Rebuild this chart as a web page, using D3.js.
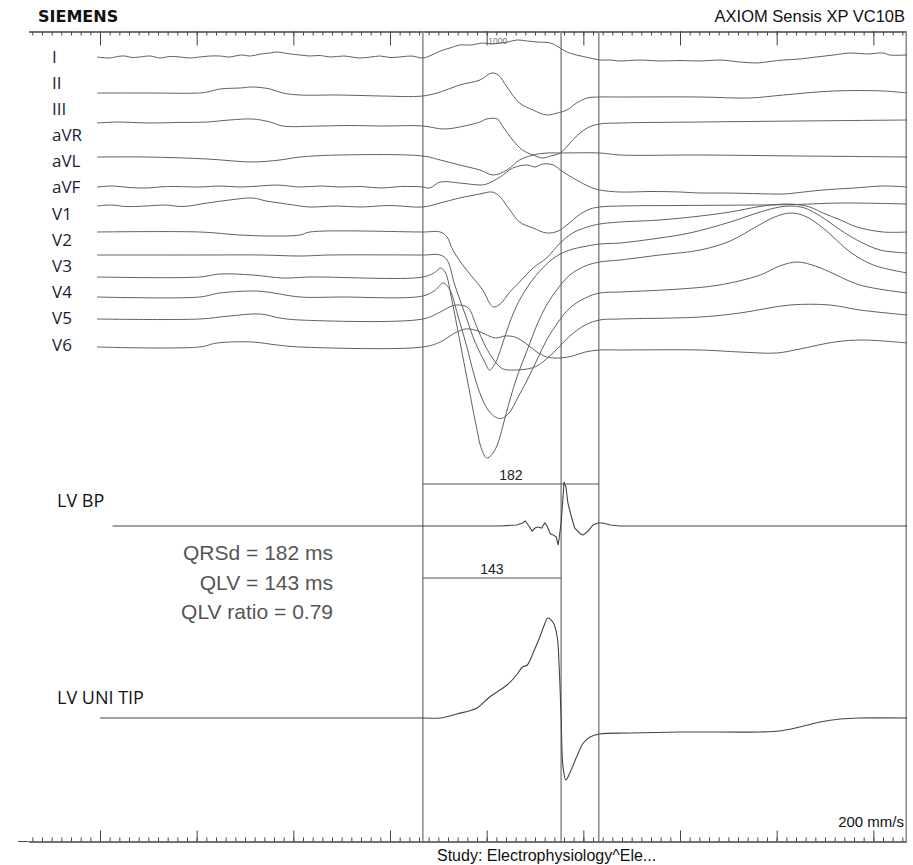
<!DOCTYPE html>
<html>
<head>
<meta charset="utf-8">
<script src="https://cdn.jsdelivr.net/npm/d3@7"></script>
<style>
  body { margin: 0; background: #fff; }
  svg { display: block; }
</style>
</head>
<body>
<div id="chart"></div>
<script>
// ---- data: [time ms, amplitude mV] ----
const leads = ["I", "II", "III", "aVR", "aVL", "aVF", "V1", "V2", "V3", "V4", "V5", "V6"];

const leadI = [[-3,0],[10,-0.02],[18,0.01],[26,0.02],[33,-0.01],[41,0],[52,0.02],[62,-0.02],[72,0.01],[83,0],[93,-0.02],[103,0],[114,0.02],[124,0.02],[135,0],[145,0.04],[156,0.02],[166,0.06],[176,0.08],[183,0.1],[197,0.06],[207,0.04],[217,0.02],[228,0.03],[238,0],[252,0.02],[269,-0.02],[280,0],[290,0.02],[300,-0.01],[310,0],[322,0.02],[334,-0.02],[341,0.02],[352,0.12],[362,0.18],[372,0.24],[384,0.24],[396,0.28],[405,0.26],[414,0.28],[422,0.3],[431,0.34],[442,0.32],[452,0.3],[466,0.28],[476,0.18],[483,0.1],[493,0.04],[507,-0.02],[517,-0.06],[528,-0.06],[538,-0.08],[559,-0.06],[579,-0.08],[600,-0.07],[621,-0.08],[641,-0.06],[662,-0.1],[680,-0.12],[693,-0.09],[707,-0.06],[724,-0.04],[741,0],[759,0.04],[776,0.08],[793,0.06],[810,0.08],[817,0.04],[835,0.04]];
const leadII = [[-3,0],[48,0],[103,0],[111,0.02],[124,0.08],[145,0.1],[158,0.12],[176,0.08],[189,0],[207,-0.04],[248,-0.04],[290,-0.06],[334,-0.06],[352,0.02],[372,0.16],[393,0.26],[405,0.4],[412,0.36],[421,0.12],[434,-0.2],[448,-0.34],[462,-0.44],[473,-0.4],[483,-0.34],[493,-0.2],[504,-0.1],[517,-0.08],[538,-0.08],[621,-0.08],[672,-0.1],[707,-0.04],[759,0.04],[810,0.04],[835,0]];
const leadIII = [[-3,0],[20,0.02],[48,0],[80,0.01],[111,0.02],[134,0.06],[158,0.08],[176,0.02],[189,-0.06],[228,-0.06],[260,-0.05],[290,-0.06],[334,-0.06],[355,-0.12],[372,-0.08],[393,0.02],[400,0.08],[411,0.08],[417,-0.08],[427,-0.34],[437,-0.54],[448,-0.64],[458,-0.7],[466,-0.66],[476,-0.6],[491,-0.3],[504,-0.1],[517,-0.02],[538,0],[621,0.02],[724,0.04],[835,0.06]];
const leadAVR = [[-3,0],[48,0],[111,-0.04],[158,-0.1],[186,-0.06],[207,0],[248,0.04],[334,0.02],[352,-0.06],[372,-0.16],[393,-0.26],[407,-0.36],[421,-0.26],[434,-0.06],[448,0.04],[462,0.08],[476,0.08],[517,0.08],[538,0.04],[621,0.04],[724,0.02],[835,0]];
const leadAVL = [[-3,0],[14,0.02],[30,-0.01],[48,-0.02],[70,0.01],[103,0],[125,0.02],[145,0],[165,0.02],[183,0.04],[207,0],[228,0.02],[248,0],[270,0.01],[290,-0.02],[312,0.01],[334,0],[341,-0.02],[352,0.1],[372,0.08],[393,0.04],[400,0.06],[414,0.2],[427,0.38],[442,0.44],[450,0.4],[458,0.46],[469,0.44],[479,0.3],[493,0.14],[507,0],[517,-0.06],[538,-0.1],[570,-0.09],[600,-0.1],[620,-0.12],[644,-0.12],[675,-0.13],[707,-0.14],[728,-0.1],[748,-0.06],[780,-0.02],[810,0.02],[835,0]];
const leadAVF = [[-3,0],[12,0.02],[26,-0.01],[48,0],[66,0.02],[86,-0.01],[111,0.06],[134,0.12],[158,0.16],[172,0.1],[186,0.06],[200,0.02],[217,-0.02],[245,0],[269,-0.02],[300,0.01],[334,-0.02],[352,0.06],[372,0.16],[393,0.24],[405,0.28],[412,0.22],[424,-0.08],[434,-0.32],[448,-0.44],[462,-0.54],[474,-0.5],[483,-0.38],[497,-0.16],[507,-0.06],[517,-0.02],[538,0],[600,0.01],[680,0.02],[720,0.03],[766,0.06],[835,0.04]];
const leadV1 = [[-3,0],[103,0],[145,-0.06],[176,-0.08],[207,-0.06],[217,0],[334,0],[352,0],[359,-0.1],[365,-0.36],[376,-0.68],[386,-0.92],[396,-1.16],[403,-1.42],[407,-1.5],[414,-1.44],[424,-1.2],[434,-1.0],[448,-0.72],[462,-0.52],[476,-0.22],[489,-0.02],[504,0.1],[517,0.16],[538,0.2],[579,0.24],[621,0.32],[652,0.4],[686,0.52],[714,0.56],[734,0.5],[748,0.38],[766,0.24],[783,0.1],[810,0],[835,0]];
const leadV2 = [[-3,0],[103,0],[166,0],[207,-0.02],[238,0],[334,0],[352,0],[359,-0.1],[367,-0.6],[378,-1.2],[388,-1.74],[398,-2.14],[403,-2.3],[409,-2.16],[416,-1.8],[424,-1.34],[434,-0.9],[445,-0.56],[458,-0.26],[471,-0.04],[486,0.1],[504,0.18],[517,0.22],[538,0.24],[579,0.34],[610,0.44],[652,0.66],[683,0.86],[703,0.96],[714,0.98],[729,0.94],[745,0.78],[766,0.5],[783,0.3],[807,0.1],[835,0.04]];
const leadV3 = [[-3,0],[103,0],[124,0.06],[158,0.04],[189,-0.02],[217,0],[334,0],[347,0.1],[352,0.18],[357,0.1],[364,-0.46],[372,-1.26],[381,-2.16],[389,-2.96],[395,-3.46],[400,-3.62],[405,-3.56],[411,-3.36],[417,-2.96],[424,-2.46],[432,-1.96],[442,-1.46],[452,-0.96],[462,-0.56],[474,-0.22],[486,0.04],[502,0.22],[517,0.3],[538,0.34],[579,0.44],[621,0.54],[652,0.72],[680,1.02],[698,1.2],[714,1.28],[729,1.22],[748,0.98],[776,0.5],[800,0.24],[835,0.08]];
const leadV4 = [[-3,0],[103,0],[124,0.08],[158,0.12],[173,0.1],[207,0],[248,0],[334,0.02],[347,0.14],[355,0.28],[362,0.14],[370,-0.36],[379,-0.96],[387,-1.56],[395,-2.02],[403,-2.3],[411,-2.42],[417,-2.42],[424,-2.3],[432,-2.02],[442,-1.66],[452,-1.26],[462,-0.86],[474,-0.5],[486,-0.22],[502,-0.02],[517,0.08],[538,0.1],[600,0.16],[641,0.24],[683,0.44],[703,0.62],[721,0.7],[740,0.62],[755,0.5],[786,0.24],[835,0.08]];
const leadV5 = [[-3,0],[103,0],[134,0.06],[166,0.1],[186,0.02],[207,-0.02],[334,0],[352,0.14],[364,0.26],[372,0.28],[381,0.22],[389,-0.12],[398,-0.52],[409,-0.86],[417,-1.0],[429,-1.02],[442,-1.0],[452,-0.94],[463,-0.78],[474,-0.58],[486,-0.34],[502,-0.12],[517,-0.02],[538,0],[621,0.04],[662,0.12],[714,0.28],[755,0.28],[786,0.18],[835,0.08]];
const leadV6 = [[-3,0],[103,0],[121,0.08],[158,0.1],[183,0.04],[207,0],[334,0],[352,0.1],[367,0.28],[378,0.36],[388,0.34],[398,0.26],[409,0.18],[419,0.22],[429,0.2],[440,0.08],[452,-0.1],[462,-0.2],[476,-0.22],[489,-0.18],[502,-0.1],[517,-0.06],[538,-0.06],[621,-0.06],[662,-0.1],[700,-0.12],[724,-0.04],[760,0.1],[789,0.14],[835,0.08]];
const leadData = [leadI, leadII, leadIII, leadAVR, leadAVL, leadAVF, leadV1, leadV2, leadV3, leadV4, leadV5, leadV6];

const lvBP = [[13,0],[200,0],[334,0],[414,0],[431,0.02],[437,0.06],[440,0.1],[443,0.02],[447,-0.1],[450,-0.04],[453,-0.02],[457,-0.04],[460,0.06],[462,0.02],[466,-0.16],[469,-0.18],[472,-0.22],[474,-0.38],[475,-0.24],[477,0.06],[479,0.58],[480,0.88],[482,0.78],[484,0.46],[488,0.16],[491,-0.04],[497,-0.16],[500,-0.18],[505,-0.1],[510,0.02],[515,0.06],[520,0.06],[528,0.02],[538,0],[835,0]];
const lvUni = [[0,0],[207,0],[334,0],[352,0],[369,0.08],[390,0.2],[403,0.42],[421,0.66],[431,0.86],[437,1.02],[442,1.06],[448,1.3],[455,1.62],[460,1.88],[463,2.0],[469,1.9],[473,1.62],[475,1.02],[477,0.02],[479,-0.98],[482,-1.24],[486,-1.1],[493,-0.78],[500,-0.5],[507,-0.38],[517,-0.32],[548,-0.3],[600,-0.28],[683,-0.28],[703,-0.26],[724,-0.18],[745,-0.08],[766,-0.02],[786,0],[835,0]];

// cursors (ms) and measured intervals
const cursors = [334, 477, 516];
const intervals = [
  { label: "182", from: 334, to: 516 },
  { label: "143", from: 334, to: 477 }
];
const results = ["QRSd = 182 ms", "QLV = 143 ms", "QLV ratio = 0.79"];

window.onload = () => {
  const W = 913, H = 865;
  const pxPerMs = 0.96667;
  const gain = 50; // px per mV

  const svg = d3.select("#chart").append("svg")
    .attr("width", W)
    .attr("height", H)
    .style("font-family", "'Liberation Sans', Arial, sans-serif");

  // time scale, 0 ms at the first long tick
  const x = d3.scaleLinear()
    .domain([-74, 834])
    .range([100 - 74 * pxPerMs, 100 + 834 * pxPerMs]);

  // 1. Header texts
  svg.append("text")
    .attr("x", 38).attr("y", 22)
    .attr("font-family", "'DejaVu Sans', sans-serif")
    .attr("font-weight", "bold")
    .attr("font-size", 16)
    .attr("fill", "#111")
    .text("SIEMENS");

  svg.append("text")
    .attr("x", 905).attr("y", 22)
    .attr("text-anchor", "end")
    .attr("font-size", 16.5)
    .attr("fill", "#111")
    .text("AXIOM Sensis XP VC10B");

  svg.append("text")
    .attr("x", 437).attr("y", 861)
    .attr("font-size", 16)
    .attr("fill", "#111")
    .text("Study: Electrophysiology^Ele...");

  svg.append("text")
    .attr("x", 904).attr("y", 827)
    .attr("text-anchor", "end")
    .attr("font-size", 15)
    .attr("fill", "#111")
    .text("200 mm/s");

  // 2. Rulers (10 ms minor, 100 ms major)
  const minor = d3.range(-70, 834, 10);
  const major = d3.range(0, 834, 100);

  function ruler(y, axisFn, minorLen, majorLen) {
    const g = svg.append("g").attr("transform", `translate(0,${y})`);
    g.append("g").call(axisFn(x).tickValues(minor).tickSize(minorLen).tickSizeOuter(0).tickFormat(""));
    g.append("g").call(axisFn(x).tickValues(major).tickSize(majorLen).tickSizeOuter(0).tickFormat(""));
    g.selectAll("path, line").attr("stroke", "#444").attr("stroke-width", 1);
    return g;
  }
  ruler(31.5, d3.axisBottom, 4, 14);
  ruler(841.5, d3.axisTop, 4, 11)
    .append("line")
    .attr("x1", 18).attr("x2", x(-74))
    .attr("stroke", "#444");

  // 3. Cursors and right border
  svg.selectAll("line.cursor")
    .data(cursors.concat([834]))
    .enter()
    .append("line")
    .attr("class", "cursor")
    .attr("x1", d => x(d)).attr("x2", d => x(d))
    .attr("y1", 31).attr("y2", 841)
    .attr("stroke", "#808080")
    .attr("stroke-width", 1.4);

  svg.append("text")
    .attr("x", x(400) + 11).attr("y", 44)
    .attr("text-anchor", "middle")
    .attr("font-size", 8.5)
    .attr("fill", "#777")
    .text("1000");

  // 4. Surface ECG leads
  const baselines = [57, 93, 123, 157, 187, 206, 232, 255, 277, 297, 319, 347];
  const labelY = d3.scalePoint().domain(leads).range([58, 346]);

  leads.forEach((name, i) => {
    const y = d3.scaleLinear().domain([0, 1]).range([baselines[i], baselines[i] - gain]);
    const line = d3.line()
      .x(d => x(d[0]))
      .y(d => y(d[1]))
      .curve(d3.curveCatmullRom.alpha(0.5));

    svg.append("path")
      .datum(leadData[i])
      .attr("d", line)
      .attr("fill", "none")
      .attr("stroke", "#606060")
      .attr("stroke-width", 1);

    svg.append("text")
      .attr("x", 52)
      .attr("y", labelY(name))
      .attr("dominant-baseline", "middle")
      .attr("font-family", "'Open Sans', sans-serif")
      .attr("font-size", 17)
      .attr("fill", "#1c1c3a")
      .text(name);
  });

  // 5. Intracardiac channels
  const channels = [
    { name: "LV BP", data: lvBP, base: 526, labelY: 507, curve: d3.curveLinear },
    { name: "LV UNI TIP", data: lvUni, base: 718, labelY: 704, curve: d3.curveCatmullRom.alpha(0.5) }
  ];

  channels.forEach(c => {
    const y = d3.scaleLinear().domain([0, 1]).range([c.base, c.base - gain]);
    svg.append("path")
      .datum(c.data)
      .attr("d", d3.line().x(d => x(d[0])).y(d => y(d[1])).curve(c.curve))
      .attr("fill", "none")
      .attr("stroke", "#444")
      .attr("stroke-width", 1.1);

    svg.append("text")
      .attr("x", 57)
      .attr("y", c.labelY)
      .attr("font-family", "'Open Sans', sans-serif")
      .attr("font-size", 18)
      .attr("fill", "#111")
      .text(c.name);
  });

  // 6. Interval calipers
  const calY = [484, 578];
  intervals.forEach((iv, i) => {
    svg.append("line")
      .attr("x1", x(iv.from)).attr("x2", x(iv.to))
      .attr("y1", calY[i]).attr("y2", calY[i])
      .attr("stroke", "#555");
    svg.append("text")
      .attr("x", x((iv.from + iv.to) / 2))
      .attr("y", calY[i] - 4)
      .attr("text-anchor", "middle")
      .attr("font-size", 14)
      .attr("fill", "#222")
      .text(iv.label);
  });

  // 7. Result text
  results.forEach((t, i) => {
    svg.append("text")
      .attr("x", 333)
      .attr("y", 560 + i * 29.5)
      .attr("text-anchor", "end")
      .attr("font-size", 21)
      .attr("fill", "#555")
      .text(t);
  });
};
</script>
</body>
</html>
